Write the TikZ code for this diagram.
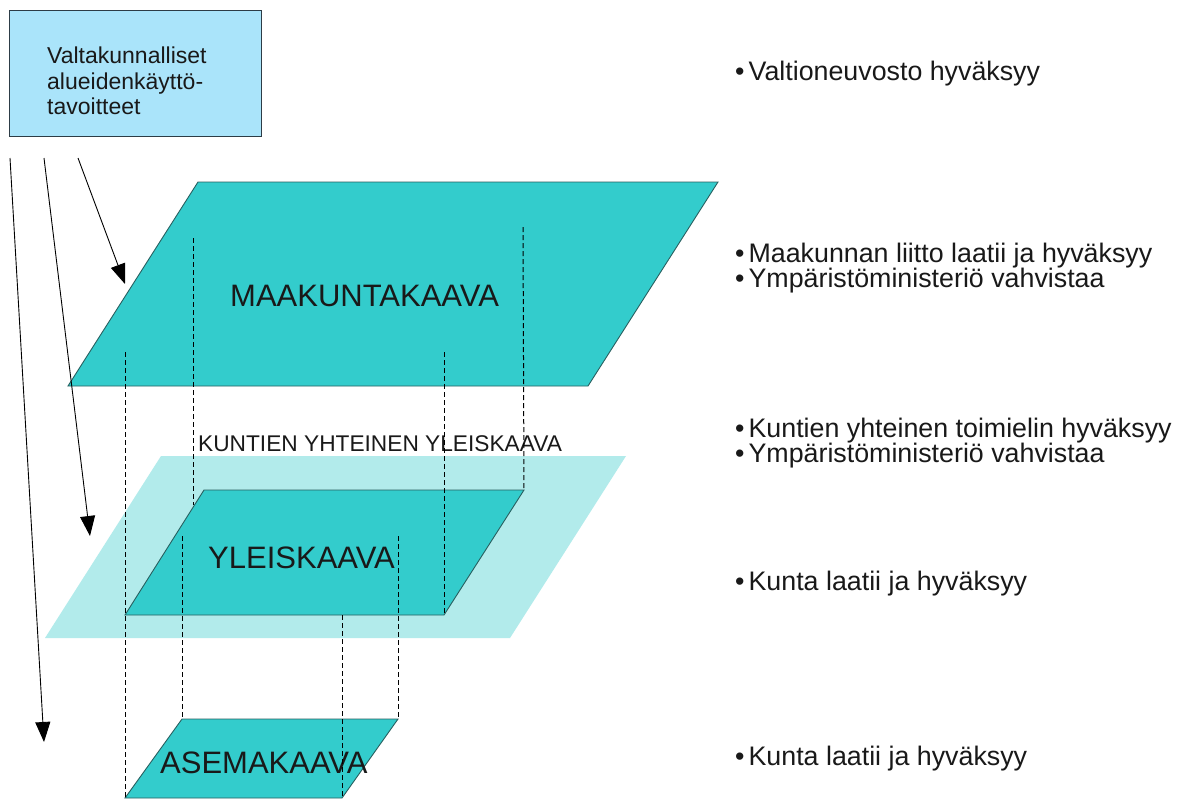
\documentclass[tikz,border=0pt]{standalone}
\usepackage{fontspec}
\setmainfont{Liberation Sans}
\usetikzlibrary{arrows.meta}
\definecolor{tealmain}{RGB}{51,204,204}
\definecolor{teallight}{RGB}{178,235,235}
\definecolor{boxblue}{RGB}{170,228,250}
\definecolor{edgecol}{RGB}{40,95,95}
\definecolor{boxedge}{RGB}{45,60,70}
\definecolor{txt}{RGB}{25,25,25}
\begin{document}
\begin{tikzpicture}[x=1pt,y=-1pt,
  plan/.style={fill=tealmain, draw=edgecol, line width=0.9pt, line join=miter},
  halo/.style={fill=teallight, draw=none},
  guide/.style={draw=black, line width=1pt, dash pattern=on 5pt off 3pt},
  flow/.style={draw=black, line width=0.9pt, -{Triangle[length=20pt,width=15pt,fill=black]}},
  big/.style={font=\fontsize{31}{35}\selectfont, text=txt, inner sep=0pt, anchor=base west},
  mid/.style={font=\fontsize{22.7}{26}\selectfont, text=txt, inner sep=0pt, anchor=base west},
  boxtxt/.style={font=\fontsize{23}{26}\selectfont, text=txt, inner sep=0pt, anchor=base west},
  note/.style={font=\fontsize{26.8}{30}\selectfont, text=txt, inner sep=0pt, anchor=base west},
  ]
\useasboundingbox[fill=white] (0,0) rectangle (1186,801);

% top box
\node[draw=boxedge, fill=boxblue, line width=1pt, minimum width=252pt, minimum height=126pt, anchor=north west, inner sep=0pt] (vat) at (9,10) {};
\node[boxtxt] (vt1) at (47,63) {Valtakunnalliset};
\node[boxtxt] (vt2) at (47,89) {alueidenkäyttö-};
\node[boxtxt] (vt3) at (47,114) {tavoitteet};

% light plane
\coordinate (k1) at (161,456);
\coordinate (k2) at (626,456);
\coordinate (k3) at (510,638);
\coordinate (k4) at (45,638);
\path[halo] (k1) -- (k2) -- (k3) -- (k4) -- cycle;

% maakuntakaava
\coordinate (m1) at (198,182);
\coordinate (m2) at (718,182);
\coordinate (m3) at (588,386);
\coordinate (m4) at (68,386);
\path[plan] (m1) -- (m2) -- (m3) -- (m4) -- cycle;

% yleiskaava
\coordinate (y1) at (204,490);
\coordinate (y2) at (524,490);
\coordinate (y3) at (444,615);
\coordinate (y4) at (125,615);
\path[plan] (y1) -- (y2) -- (y3) -- (y4) -- cycle;

% asemakaava
\coordinate (a1) at (182,719);
\coordinate (a2) at (398,719);
\coordinate (a3) at (342,798);
\coordinate (a4) at (125,798);
\path[plan] (a1) -- (a2) -- (a3) -- (a4) -- cycle;

% labels
\node[big] (lm) at (230,306) {MAAKUNTAKAAVA};
\node[mid] (lk) at (198,451) {KUNTIEN YHTEINEN YLEISKAAVA};
\node[big] (ly) at (208,568) {YLEISKAAVA};
\node[big] (la) at (160,773) {ASEMAKAAVA};

% dashed guides
\coordinate (d1s) at (193,238);  \coordinate (d1e) at (193,505);
\coordinate (d2s) at (523,227);
\coordinate (d3s) at (125,352);
\coordinate (d4s) at (444,352);
\coordinate (d5s) at (182,536);
\coordinate (d6s) at (398,536);
\coordinate (d7s) at (342,615);
\draw[guide] (d1s) -- (d1e);
\draw[guide] (d2s) -- (y2);
\draw[guide] (d3s) -- (a4);
\draw[guide] (d4s) -- (y3);
\draw[guide] (d5s) -- (a1);
\draw[guide] (d6s) -- (a2);
\draw[guide] (d7s) -- (a3);

% arrows
\coordinate (f1s) at (10,158);  \coordinate (f1e) at (44,742);
\coordinate (f2s) at (44,158);  \coordinate (f2e) at (90,536);
\coordinate (f3s) at (78,158);  \coordinate (f3e) at (125,284);
\draw[flow] (f1s) -- (f1e);
\draw[flow] (f2s) -- (f2e);
\draw[flow] (f3s) -- (f3e);

% notes
\node[note] (n1) at (735,80) {•\hspace{0.15em}Valtioneuvosto hyväksyy};
\node[note] (n2) at (735,262) {•\hspace{0.15em}Maakunnan liitto laatii ja hyväksyy};
\node[note] (n3) at (735,287) {•\hspace{0.15em}Ympäristöministeriö vahvistaa};
\node[note] (n4) at (735,437) {•\hspace{0.15em}Kuntien yhteinen toimielin hyväksyy};
\node[note] (n5) at (735,462) {•\hspace{0.15em}Ympäristöministeriö vahvistaa};
\node[note] (n6) at (735,590) {•\hspace{0.15em}Kunta laatii ja hyväksyy};
\node[note] (n7) at (735,765) {•\hspace{0.15em}Kunta laatii ja hyväksyy};
\end{tikzpicture}
\end{document}
